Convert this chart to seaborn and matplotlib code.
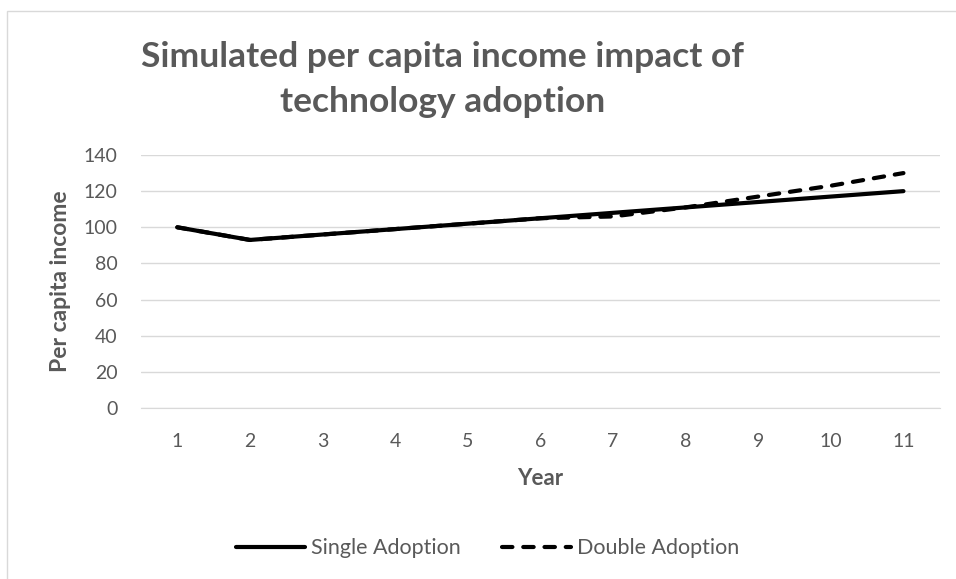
import pandas as pd
import numpy as np
import matplotlib
matplotlib.use("Agg")
import matplotlib.pyplot as plt
from matplotlib.patches import Rectangle
import seaborn as sns

years = [1, 2, 3, 4, 5, 6, 7, 8, 9, 10, 11]
single_adoption = [100, 93, 96, 99, 102, 105, 108, 111, 114, 117, 120]
double_adoption = [100, 93, 96, 99, 102, 105, 106, 111, 117, 123, 130]
series_names = ["Single Adoption", "Double Adoption"]
y_ticks = [0, 20, 40, 60, 80, 100, 120, 140]

df = pd.DataFrame({
    "Year": years * 2,
    "Income": single_adoption + double_adoption,
    "Series": [series_names[0]] * len(years) + [series_names[1]] * len(years),
})

sns.set_style("white")
plt.rcParams["font.family"] = ["Lato", "DejaVu Sans"]
grey = "#595959"
dash = (2.5, 2.6)

fig = plt.figure(figsize=(9.56, 5.79), dpi=100)
ax = fig.add_axes([0.1475, 0.2953, 0.8355, 0.437])

# outer chart frame (cut off at the right and bottom)
fig.patches.append(Rectangle((7 / 956, -0.1), 1.2, 1.1 - 11 / 579,
                             transform=fig.transFigure, fill=False,
                             edgecolor="#d9d9d9", linewidth=1.0))

sns.lineplot(data=df, x="Year", y="Income", hue="Series", style="Series",
             palette={s: "black" for s in series_names},
             dashes={series_names[0]: "", series_names[1]: dash},
             linewidth=3.0, ax=ax, legend=False)
for ln in ax.lines:
    ln.set_solid_capstyle("round")
    ln.set_dash_capstyle("round")

ax.set_xlim(0.5, 11.5)
ax.set_ylim(0, 140)
ax.set_yticks(y_ticks)
ax.set_xticks(years)
ax.set_xticks(np.arange(0.5, 12, 1), minor=True)
ax.tick_params(axis="x", which="major", length=0, pad=18, labelsize=14, labelcolor=grey)
ax.tick_params(axis="x", which="minor", length=6, color="#d9d9d9", direction="out")
ax.tick_params(axis="y", length=0, pad=17, labelsize=14, labelcolor=grey)
ax.grid(axis="y", color="#d9d9d9", linewidth=1)
ax.set_axisbelow(True)
for side in ["top", "right", "left"]:
    ax.spines[side].set_visible(False)
ax.spines["bottom"].set_color("#d9d9d9")

ax.set_xlabel("Year", fontsize=16, fontweight="bold", color=grey, labelpad=13)
ax.set_ylabel("Per capita income", fontsize=16.5, fontweight="bold", color=grey, labelpad=9)

fig.text(0.463, 0.93, "Simulated per capita income impact of\ntechnology adoption",
         ha="center", va="top", fontsize=25.5, fontweight="bold", color=grey,
         linespacing=1.5)

handles = [plt.Line2D([], [], color="black", lw=3.0, solid_capstyle="round"),
           plt.Line2D([], [], color="black", lw=3.0, ls=(0, dash), dash_capstyle="round")]
fig.legend(handles, series_names, loc="center", bbox_to_anchor=(0.51, 0.053),
           ncol=2, frameon=False, fontsize=15.5, labelcolor=grey,
           handlelength=3.2, handletextpad=0.3, columnspacing=1.9)

fig.savefig("out.png", dpi=100)
